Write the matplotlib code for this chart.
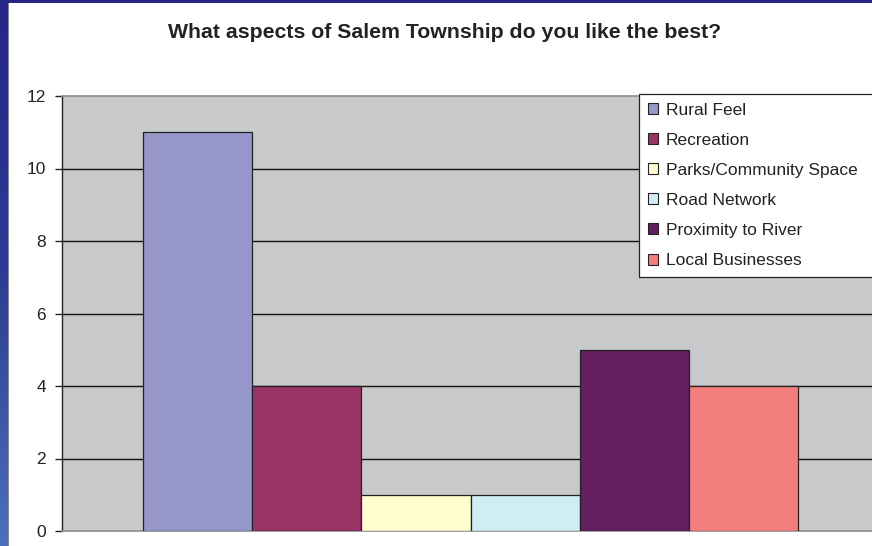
import matplotlib
matplotlib.use("Agg")
import matplotlib.pyplot as plt
import numpy as np
from matplotlib.patches import Patch, Rectangle
from matplotlib.colors import LinearSegmentedColormap

plt.rcParams['font.family'] = ['Liberation Sans', 'DejaVu Sans']

title = "What aspects of Salem Township do you like the best?"
series = ["Rural Feel", "Recreation", "Parks/Community Space", "Road Network",
          "Proximity to River", "Local Businesses"]
values = [11, 4, 1, 1, 5, 4]
colors = ["#9696C8", "#993366", "#FFFCCF", "#D0ECF4", "#631F62", "#F47E7E"]
yticks = [0, 2, 4, 6, 8, 10, 12]

fig = plt.figure(figsize=(8.72, 5.46), dpi=100)
fig.patch.set_facecolor("white")

# left/top blue border
bg = fig.add_axes([0, 0, 1, 1], zorder=-10)
bg.set_xlim(0, 872); bg.set_ylim(546, 0); bg.axis("off")
grad = np.linspace(0, 1, 200)[:, None]
cmap = LinearSegmentedColormap.from_list("b", ["#262784", "#2C3C94", "#4C70B9"])
bg.imshow(grad, cmap=cmap, extent=[0, 8, 546, 0], aspect="auto")
bg.add_patch(Rectangle((0, 0), 872, 2.5, color="#262784", lw=0))
bg.add_patch(Rectangle((8, 2.5), 1.2, 546, color="#8A8A8A", lw=0))
bg.add_patch(Rectangle((8, 2.5), 864, 0.8, color="#8A8A8A", lw=0))

L, R, T, B = 62, 879, 96, 531
ax = fig.add_axes([L / 872, 1 - B / 546, (R - L) / 872, (B - T) / 546])
ax.set_facecolor("#C8C9CB")

n = len(values)
w = (655 / 817) / n
x = (np.arange(n) - (n - 1) / 2) * w
for xi, v, c, s in zip(x, values, colors, series):
    ax.bar(xi, v, width=w, color=c, edgecolor="#222222", linewidth=0.9, zorder=3, label=s)

ax.set_xlim(-0.5, 0.5)
ax.set_ylim(0, 12)
ax.set_yticks(yticks)
ax.set_xticks([])
ax.tick_params(axis="y", direction="out", length=5, width=1, color="#222222",
               labelsize=12.5, pad=6.5, labelcolor="#222222")
for yv in yticks[1:-1]:
    ax.axhline(yv, color="#111111", lw=1, zorder=1)
ax.spines["left"].set_color("#222222")
ax.spines["left"].set_linewidth(1)
for sp in ["top", "right", "bottom"]:
    ax.spines[sp].set_color("#8C8C8C")
    ax.spines[sp].set_linewidth(1.2)

fig.text(445 / 872, 1 - 33 / 546, title, ha="center", va="center",
         fontsize=15.3, fontweight="bold", color="#222222")

handles = [Patch(facecolor=c, edgecolor="#222222", linewidth=0.8) for c in colors]
leg = fig.legend(handles, series, loc="upper left", mode="expand",
                 bbox_to_anchor=(639 / 872, 1 - 94 / 546 - 0.3, 260 / 872, 0.3),
                 fontsize=12.5, frameon=True, fancybox=False, edgecolor="#222222",
                 framealpha=1, facecolor="white", handlelength=0.6, handleheight=0.6,
                 handletextpad=0.45, labelspacing=0.87, borderpad=0.5,
                 borderaxespad=0)
leg.get_frame().set_linewidth(0.9)
for t in leg.get_texts():
    t.set_color("#222222")

fig.savefig("out.png", dpi=100)
